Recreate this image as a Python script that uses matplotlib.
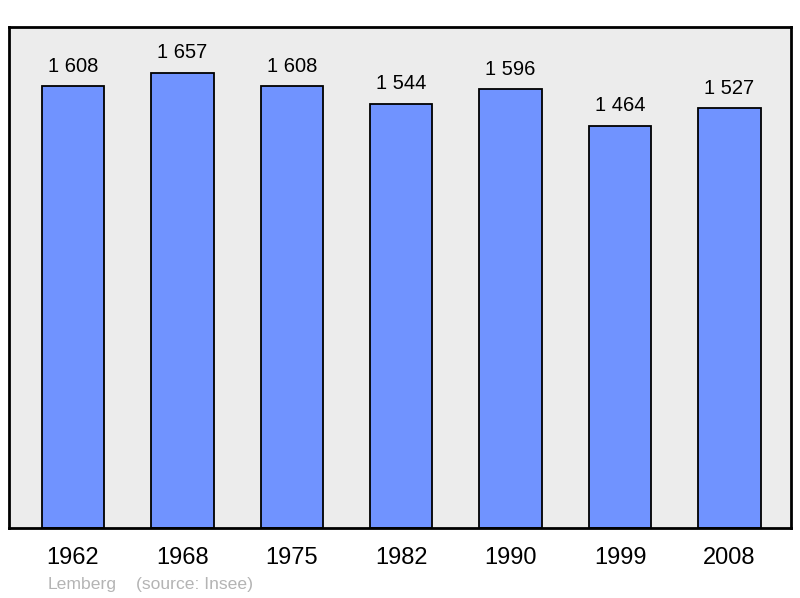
import numpy as np
import matplotlib.pyplot as plt

years = ["1962", "1968", "1975", "1982", "1990", "1999", "2008"]
population = [1608, 1657, 1608, 1544, 1596, 1464, 1527]
value_labels = ["1 608", "1 657", "1 608", "1 544", "1 596", "1 464", "1 527"]

plt.rcParams['font.family'] = ['Liberation Sans', 'DejaVu Sans']

fig = plt.figure(figsize=(8, 5.98), dpi=100)
ax = fig.add_axes([9/800, 70/598, 782/800, 501/598])
ax.set_facecolor("#ececec")

x = np.arange(len(years))
bars = ax.bar(x, population, width=0.57, color="#7093ff", edgecolor="black", linewidth=1.3, zorder=2)

for b, lab in zip(bars, value_labels):
    ax.annotate(lab, (b.get_x() + b.get_width()/2, b.get_height()), xytext=(0, 7.5),
                textcoords="offset points", ha="center", va="bottom", fontsize=14.5)

ax.set_xlim(-0.585, 6.562)
ax.set_ylim(0, max(population) * 1.1)
ax.set_xticks(x)
ax.set_xticklabels(years, fontsize=17)
ax.tick_params(axis="x", length=0, pad=14)
ax.set_yticks([])
for s in ax.spines.values():
    s.set_linewidth(2)
    s.set_color("black")

fig.text(48/800, 1 - 585/598, "Lemberg", fontsize=12.6, color="#b4b4b4", va="center")
fig.text(136/800, 1 - 585/598, "(source: Insee)", fontsize=12.6, color="#b4b4b4", va="center")

fig.savefig("out.png", dpi=100)
